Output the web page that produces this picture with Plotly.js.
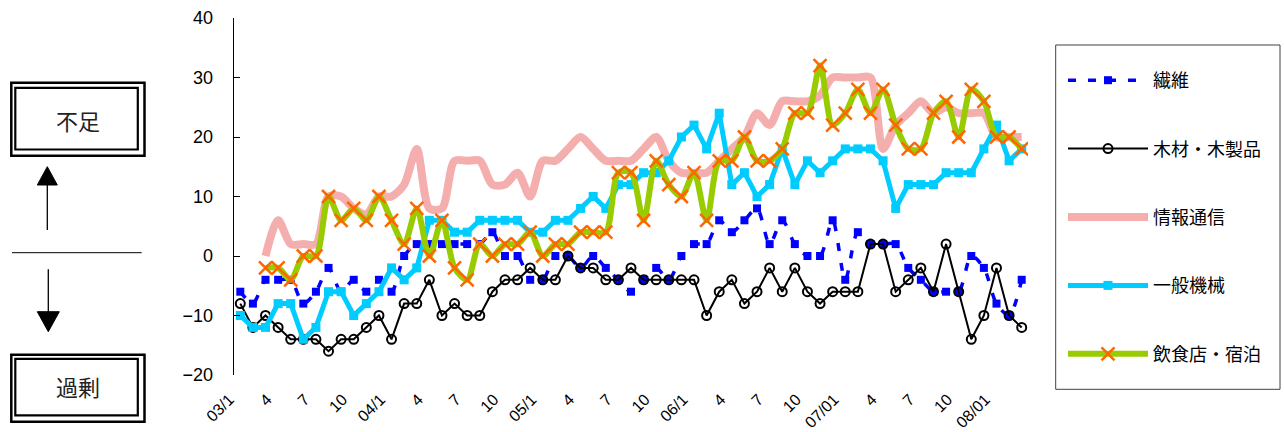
<!DOCTYPE html>
<html>
<head>
<meta charset="utf-8">
<script src="https://cdn.plot.ly/plotly-3.0.1.min.js"></script>
<style>
html,body{margin:0;padding:0;background:#fff;}
#chart{width:1284px;height:432px;}
</style>
</head>
<body>
<div id="chart"></div>
<script>
// ---- data ----
const months = [
 "2003-01","2003-02","2003-03","2003-04","2003-05","2003-06","2003-07","2003-08","2003-09","2003-10","2003-11","2003-12",
 "2004-01","2004-02","2004-03","2004-04","2004-05","2004-06","2004-07","2004-08","2004-09","2004-10","2004-11","2004-12",
 "2005-01","2005-02","2005-03","2005-04","2005-05","2005-06","2005-07","2005-08","2005-09","2005-10","2005-11","2005-12",
 "2006-01","2006-02","2006-03","2006-04","2006-05","2006-06","2006-07","2006-08","2006-09","2006-10","2006-11","2006-12",
 "2007-01","2007-02","2007-03","2007-04","2007-05","2007-06","2007-07","2007-08","2007-09","2007-10","2007-11","2007-12",
 "2008-01","2008-02","2008-03"
];
const tickMonths = ["2003-01","2003-04","2003-07","2003-10","2004-01","2004-04","2004-07","2004-10",
 "2005-01","2005-04","2005-07","2005-10","2006-01","2006-04","2006-07","2006-10",
 "2007-01","2007-04","2007-07","2007-10","2008-01"];
const tickLabels = ["03/1","4","7","10","04/1","4","7","10","05/1","4","7","10",
 "06/1","4","7","10","07/01","4","7","10","08/01"];

const textile = [-6,-8,-4,-4,-4,-8,-6,-2,-6,-4, -6,-4,-6,0,2,2,2,2,2,2, 4,0,0,-4,-4,0,0,-2,0,-2,
 -4,-6,-4,-2,-4,0,2,2,6,4, 6,8,2,6,2,0,0,6,-4,4, 2,2,2,-2,-4,-6,-6,-6,0,-2, -8,-10,-4];
const wood = [-8,-12,-10,-12,-14,-14,-14,-16,-14,-14, -12,-10,-14,-8,-8,-4,-10,-8,-10,-10,
 -6,-4,-4,-2,-4,-4,0,-2,-2,-4, -4,-2,-4,-4,-4,-4,-4,-10,-6,-4, -8,-6,-2,-6,-2,-6,-8,-6,-6,-6,
 2,2,-6,-4,-2,-6,2,-6,-14,-10, -2,-10,-12];
const info = [null,null,0,6,2,2,2,10,10,8, 7,10,10,12,18,8,8,16,16,16, 12,12,14,10,16,16,18,20,18,16,
 16,16,18,20,16,14,14,14,16,18, 20,24,22,26,26,26,27,30,30,30, 30,18,22,24,26,24,25,24,24,24, 20,20,20];
const machinery = [-10,-12,-12,-8,-8,-14,-12,-6,-6,-10, -8,-6,-2,-4,-2,6,6,4,4,6, 6,6,6,4,4,6,6,8,10,8,
 12,12,14,14,16,20,22,18,24,12, 14,10,12,18,12,16,14,16,18,18, 18,16,8,12,12,12,14,14,14,18, 22,16,18];
const food = [null,null,-2,-2,-4,0,0,10,6,8, 6,10,6,2,8,0,6,-2,-4,2, 0,2,2,4,0,2,2,4,4,4,
 14,14,6,16,12,10,14,6,16,16, 20,16,16,18,24,24,32,22,24,28, 24,28,22,18,18,24,26,20,28,26, 20,20,18];

const names = ["繊維","木材・木製品","情報通信","一般機械","飲食店・宿泊"];

// ---- layout helpers (pixel -> paper) ----
const L = 234, R = 1028, T = 18, B = 375;
const X = p => (p - L) / (R - L);
const Y = p => (B - p) / (B - T);

const traces = [
 {x: months, y: textile, name: names[0], legendgroup: "g1", mode: "lines+markers",
  line: {color: "#0000FF", width: 3.5, dash: "8px,12px", shape: "spline", smoothing: 0.8},
  marker: {symbol: "square", size: 8, color: "#0000FF"}},
 {x: months, y: wood, name: names[1], legendgroup: "g2", mode: "lines+markers",
  line: {color: "#000000", width: 2},
  marker: {symbol: "circle-open", size: 9, color: "#000000", line: {width: 2, color: "#000000"}}},
 {x: months, y: info, name: names[2], legendgroup: "g3", mode: "lines",
  line: {color: "#f5aeae", width: 8, shape: "spline", smoothing: 0.8}},
 {x: months, y: machinery, name: names[3], legendgroup: "g4", mode: "lines+markers",
  line: {color: "#00CCFF", width: 5},
  marker: {symbol: "square", size: 9, color: "#00CCFF"}},
 {x: months, y: food, name: names[4], legendgroup: "g5", mode: "lines+markers",
  line: {color: "#99CC00", width: 6, shape: "spline", smoothing: 0.8},
  marker: {symbol: "x-thin-open", size: 13, color: "#FF6600", line: {width: 2.5, color: "#FF6600"}}}
];

const rect = (x0, y0, x1, y1, w, c) => ({type: "rect", xref: "paper", yref: "paper",
  x0: X(x0), x1: X(x1), y0: Y(y1), y1: Y(y0), line: {color: c || "#000", width: w}, fillcolor: "rgba(0,0,0,0)"});
const seg = (x0, y0, x1, y1, w) => ({type: "line", xref: "paper", yref: "paper",
  x0: X(x0), x1: X(x1), y0: Y(y0), y1: Y(y1), line: {color: "#000", width: w}});
const tri = (pts) => ({type: "path", xref: "paper", yref: "paper",
  path: "M" + pts.map(p => X(p[0]) + "," + Y(p[1])).join(" L") + " Z",
  fillcolor: "#000", line: {color: "#000", width: 1}});

const shapes = [
 rect(11.3, 82.8, 144.5, 155.8, 2.5), rect(15.3, 87.8, 137.8, 149.5, 2.2),
 rect(11.3, 354.7, 144.5, 421.7, 2.5), rect(15.3, 358.8, 137.8, 415.3, 2.2),
 seg(47.3, 230, 47.3, 184, 1.3), tri([[47.3, 166.7], [37.3, 185], [57.3, 185]]),
 seg(12, 252.7, 141.7, 252.7, 1),
 seg(48.3, 269.3, 48.3, 312, 1.3), tri([[37.3, 311.7], [59.3, 311.7], [48.3, 331.7]]),
 rect(1055.7, 45, 1280, 389.3, 1, "#404040")
];

const annotations = [
 {xref: "paper", yref: "paper", x: X(78), y: Y(120), xanchor: "center", yanchor: "middle",
  text: "不足", showarrow: false, font: {family: "Noto Sans CJK JP", size: 22, color: "#222"}},
 {xref: "paper", yref: "paper", x: X(78), y: Y(386), xanchor: "center", yanchor: "middle",
  text: "過剰", showarrow: false, font: {family: "Noto Sans CJK JP", size: 22, color: "#222"}}
];

const layout = {
 width: 1284, height: 432,
 margin: {l: L, r: 1284 - R, t: T, b: 432 - B},
 paper_bgcolor: "#fff", plot_bgcolor: "#fff",
 showlegend: true,
 legend: {x: X(1063), y: Y(62), xanchor: "left", yanchor: "top", itemwidth: 80,
  tracegroupgap: 42, traceorder: "grouped", bgcolor: "rgba(0,0,0,0)", borderwidth: 0,
  font: {family: "Noto Sans CJK JP", size: 18, color: "#000"}},
 xaxis: {type: "category", range: [-0.5, 62.5], showgrid: false, zeroline: false, showline: false,
  ticks: "", tickmode: "array", tickvals: tickMonths, ticktext: tickLabels, tickangle: -45,
  ticklabelstandoff: 11, ticklabelshift: -11,
  tickfont: {family: "Liberation Sans, Arial", size: 16, color: "#000"}},
 xaxis2: {overlaying: "x", anchor: "free", position: Y(256), type: "linear", range: [-0.5, 62.5],
  showgrid: false, zeroline: false, showline: true, linecolor: "#000", linewidth: 1.3,
  ticks: "inside", ticklen: 6, tickwidth: 1, tickcolor: "#000", tick0: -0.5, dtick: 1,
  showticklabels: false},
 yaxis: {range: [-20, 40], dtick: 10, showgrid: false, zeroline: false, showline: true,
  linecolor: "#000", linewidth: 1.3, ticks: "inside", ticklen: 6, tickcolor: "#000",
  ticklabelstandoff: 16,
  tickfont: {family: "Liberation Sans, Arial", size: 18, color: "#000"}},
 shapes: shapes,
 annotations: annotations
};

Plotly.newPlot("chart", traces, layout, {displayModeBar: false, staticPlot: true});
</script>
</body>
</html>
